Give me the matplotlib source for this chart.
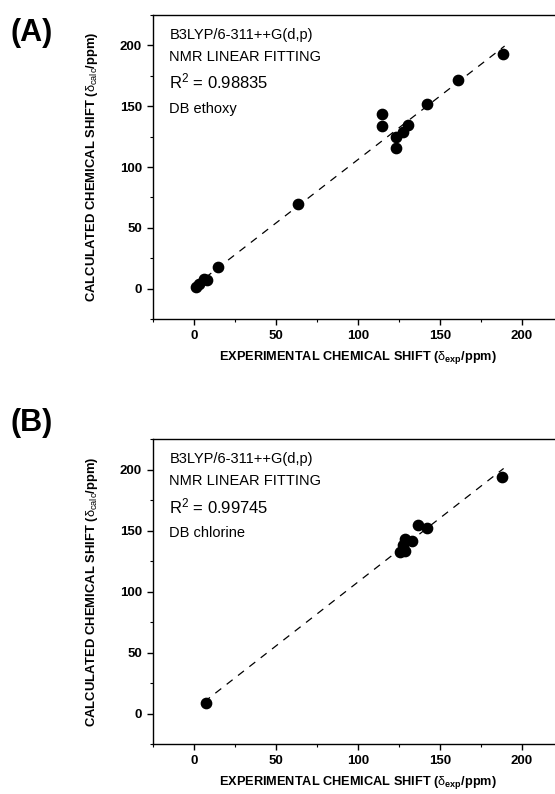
import matplotlib
matplotlib.use('Agg')
import matplotlib.pyplot as plt
import numpy as np
from matplotlib.ticker import MultipleLocator

plt.rcParams['font.family'] = ['Liberation Sans', 'DejaVu Sans']
plt.rcParams['mathtext.fontset'] = 'custom'
plt.rcParams['mathtext.rm'] = 'Liberation Sans'
plt.rcParams['mathtext.it'] = 'Liberation Sans'
plt.rcParams['mathtext.bf'] = 'Liberation Sans:bold'

# (A) DB ethoxy
exp_a = [1.0, 3.0, 6.0, 8.0, 14.7, 63.5, 114.5, 114.5, 123.2, 123.2, 127.3, 130.4, 142.3, 160.9, 188.4]
calc_a = [1.5, 3.8, 7.5, 7.0, 17.5, 69.2, 143.7, 134.0, 125.0, 115.4, 129.1, 134.6, 152.2, 171.5, 193.2]
r2_a = '0.98835'
name_a = 'DB ethoxy'

# (B) DB chlorine
exp_b = [7.1, 125.7, 128.5, 127.7, 128.7, 132.8, 136.5, 142.0, 187.8]
calc_b = [8.2, 132.2, 133.5, 138.5, 143.2, 141.2, 154.4, 152.3, 193.9]
r2_b = '0.99745'
name_b = 'DB chlorine'

method = 'B3LYP/6-311++G(d,p)'

fig = plt.figure(figsize=(5.55, 7.94), dpi=100)
W, H = 555.0, 794.0


def panel(rect, xs, ys, r2, name, tag, tag_y):
    ax = fig.add_axes(rect)
    xs = np.array(xs)
    ys = np.array(ys)
    m, b = np.polyfit(xs, ys, 1)
    xl = np.array([xs.min() - 1, xs.max() + 1])
    ax.plot(xl, m * xl + b, color='k', linestyle=(0, (6, 5.5)), linewidth=0.9)
    ax.scatter(xs, ys, s=55, color='k', zorder=3)
    ax.set_xlim(-25, 225)
    ax.set_ylim(-25, 225)
    ax.xaxis.set_major_locator(MultipleLocator(50))
    ax.xaxis.set_minor_locator(MultipleLocator(25))
    ax.yaxis.set_major_locator(MultipleLocator(50))
    ax.yaxis.set_minor_locator(MultipleLocator(25))
    ax.tick_params(which='major', direction='out', length=4, width=1, labelsize=9.5, pad=4)
    ax.tick_params(which='minor', direction='out', length=2.5, width=0.8)
    for lab in ax.get_xticklabels() + ax.get_yticklabels():
        lab.set_fontweight('bold')
    for s in ax.spines.values():
        s.set_linewidth(1)
    ax.set_xlabel('EXPERIMENTAL CHEMICAL SHIFT ' + r'($\delta_{\mathbf{exp}}$/ppm)',
                  fontsize=9.2, fontweight='bold', labelpad=5)
    ax.set_ylabel('CALCULATED CHEMICAL SHIFT ' + r'($\delta_{calc}$/ppm)',
                  fontsize=9.4, fontweight='bold', labelpad=14)
    ax.text(0.04, 0.935, method, transform=ax.transAxes, fontsize=10.5, va='center')
    ax.text(0.04, 0.862, 'NMR LINEAR FITTING', transform=ax.transAxes, fontsize=10.5, va='center')
    ax.text(0.04, 0.78, r'R$^2$ = ' + r2, transform=ax.transAxes, fontsize=12, va='center')
    ax.text(0.04, 0.692, name, transform=ax.transAxes, fontsize=10.5, va='center')
    fig.text(11 / W, 1 - tag_y / H, tag, fontsize=22, fontweight='bold', va='center', ha='left')
    return ax


panel([153 / W, 1 - 319 / H, 410 / W, 304 / H], exp_a, calc_a, r2_a, name_a, '(A)', 33)
panel([153 / W, 1 - 744 / H, 410 / W, 305 / H], exp_b, calc_b, r2_b, name_b, '(B)', 423)

fig.savefig('out.png', dpi=100)
